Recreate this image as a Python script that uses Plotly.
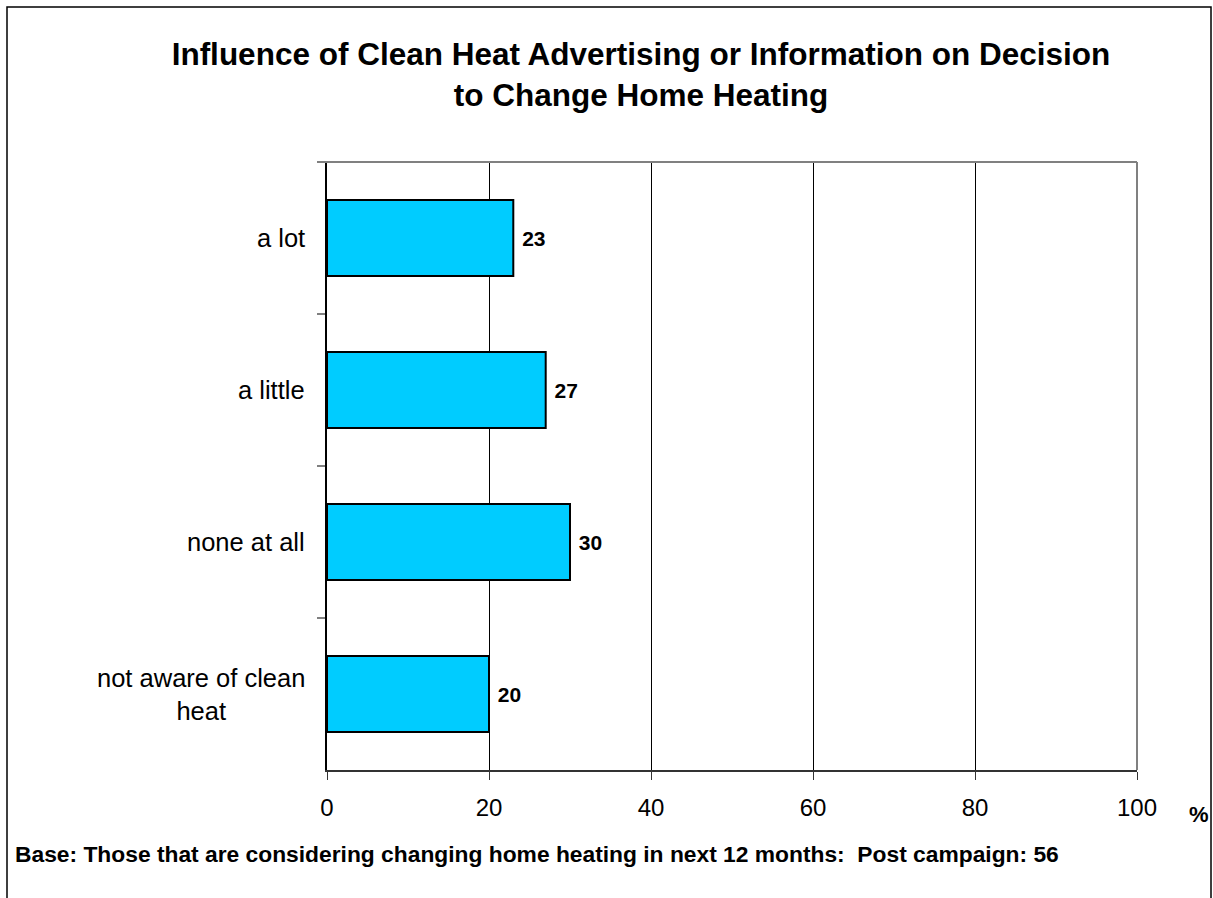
import plotly.graph_objects as go

categories = ["a lot", "a little", "none at all", "not aware of clean<br>heat"]
values = [23, 27, 30, 20]
x_ticks = [0, 20, 40, 60, 80, 100]

W, H = 1213, 898
L, R, T, B = 327, 1137, 162, 770

def px_x(p):
    return (p - L) / (R - L)

def px_y(p):
    return (B - p) / (B - T)

FONT = "Liberation Sans, Arial, sans-serif"

fig = go.Figure()
fig.add_trace(go.Bar(
    y=categories, x=values, orientation="h",
    marker=dict(color="#00CCFF", line=dict(color="black", width=2)),
    text=["\u00a0" + str(v) for v in values], textposition="outside",
    textfont=dict(family=FONT, size=21, color="black", weight="bold"),
    cliponaxis=False, width=0.5,
))

fig.update_layout(
    width=W, height=H,
    margin=dict(l=L, r=W - R, t=T, b=H - B),
    paper_bgcolor="white", plot_bgcolor="white",
    showlegend=False,
    title=dict(
        text="<b>Influence of Clean Heat Advertising or Information on Decision<br>to Change Home Heating</b>",
        x=641 / W, xanchor="center", xref="container",
        y=1 - 65 / H, yanchor="top", yref="container",
        font=dict(family=FONT, size=31.5, color="black"),
    ),
    xaxis=dict(
        range=[0, 100], tickvals=x_ticks, ticktext=[str(t) for t in x_ticks],
        showgrid=True, gridcolor="black", gridwidth=1,
        showline=True, linecolor="#333333", linewidth=1.5,
        ticks="outside", ticklen=8, tickcolor="#333333",
        tickfont=dict(family=FONT, size=24, color="black"),
        ticklabelstandoff=7, zeroline=False, fixedrange=True,
    ),
    yaxis=dict(
        autorange="reversed", tickson="boundaries",
        ticks="outside", ticklen=8, tickcolor="#808080", tickwidth=1.5,
        showticklabels=False, showgrid=False,
        showline=True, linecolor="black", linewidth=1.5,
        fixedrange=True,
    ),
)

# plot frame (top / right, gray)
fig.add_shape(type="line", xref="paper", yref="paper", x0=px_x(319), x1=1, y0=1, y1=1,
              line=dict(color="#808080", width=2))
fig.add_shape(type="line", xref="paper", yref="paper", x0=1, x1=1, y0=0, y1=1,
              line=dict(color="#808080", width=2))
# outer figure border
fig.add_shape(type="rect", xref="paper", yref="paper",
              x0=px_x(7), x1=px_x(1211), y0=px_y(910), y1=px_y(7),
              line=dict(color="black", width=1.5), layer="above")

# category labels (centered multi-line)
for c in categories:
    fig.add_annotation(x=0, xref="paper", y=c, yref="y", text=c, showarrow=False,
                       xanchor="right", xshift=-20, align="center",
                       font=dict(family=FONT, size=25.5, color="black"))

fig.add_annotation(x=px_x(1199), xref="paper", y=px_y(815), yref="paper", text="<b>%</b>",
                   showarrow=False, xanchor="center", yanchor="middle",
                   font=dict(family=FONT, size=22, color="black"))
fig.add_annotation(x=px_x(13), xref="paper", y=px_y(854), yref="paper",
                   text="<b>Base: Those that are considering changing home heating in next 12 months:  Post campaign: 56</b>",
                   showarrow=False, xanchor="left", yanchor="middle",
                   font=dict(family=FONT, size=22.8, color="black"))

fig.write_html("out.html", config={"displayModeBar": False},
               post_script="document.body.style.margin='0';document.body.style.overflow='hidden';")
